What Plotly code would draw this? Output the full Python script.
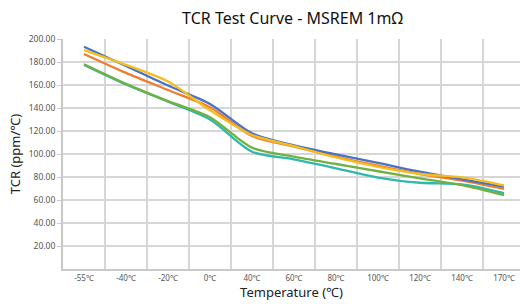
import plotly.graph_objects as go

categories = ["-55℃", "-40℃", "-20℃", "0℃", "40℃", "60℃", "80℃", "100℃", "120℃", "140℃", "170℃"]
blue = [193.3, 176.5, 159.5, 143.5, 118.0, 107.5, 99.7, 92.3, 84.6, 78.0, 71.6]
orange = [187.0, 170.5, 155.6, 140.6, 115.7, 106.4, 97.7, 89.8, 82.6, 76.8, 69.6]
yellow = [190.4, 177.5, 163.0, 138.0, 116.5, 106.8, 97.0, 88.8, 82.6, 79.7, 72.8]
green = [178.0, 161.0, 146.0, 132.0, 105.5, 97.7, 91.3, 85.0, 78.8, 73.0, 64.3]
teal = [177.5, 160.5, 145.5, 130.0, 102.0, 95.4, 87.6, 79.5, 75.0, 73.5, 66.0]
y_ticks = [20, 40, 60, 80, 100, 120, 140, 160, 180, 200]

series = [
    ("teal", teal, "#2fb8ab"),
    ("green", green, "#72b043"),
    ("orange", orange, "#ef7d30"),
    ("blue", blue, "#4a72c4"),
    ("yellow", yellow, "#f5bd1f"),
]

fig = go.Figure()
for name, vals, col in series:
    fig.add_trace(go.Scatter(
        x=categories, y=vals, mode="lines", name=name,
        line=dict(color=col, width=2.3, shape="spline", smoothing=0.8),
        showlegend=False, hoverinfo="skip",
    ))

fig.update_layout(
    width=520, height=304,
    margin=dict(l=63, r=0, t=39, b=35),
    paper_bgcolor="white", plot_bgcolor="white",
    font=dict(family="Noto Sans, Open Sans, sans-serif", color="#222"),
    title=dict(text="TCR Test Curve - MSREM 1mΩ", x=0.5625, xanchor="center",
               y=0.94, yanchor="middle", font=dict(size=16, color="#111")),
)
fig.update_xaxes(
    type="category", range=[-0.5, 10.38], automargin=False,
    tickson="boundaries", showgrid=True, gridcolor="#d6d6d6", gridwidth=1.5,
    showline=True, linecolor="#c8c8c8", linewidth=2,
    ticks="", tickfont=dict(size=8, color="#555"),
    title=dict(text="Temperature (℃)", font=dict(size=13, color="#222"), standoff=4),
)
fig.update_yaxes(
    range=[0, 200], tickvals=y_ticks, tickformat=".2f", automargin=False,
    showgrid=True, gridcolor="#d6d6d6", gridwidth=1.5,
    showline=True, linecolor="#c8c8c8", linewidth=2,
    ticks="outside", ticklen=4, tickcolor="#c8c8c8",
    tickfont=dict(size=8.5, color="#555"), zeroline=False,
    title=dict(text="TCR (ppm/℃)", font=dict(size=13, color="#222"), standoff=5),
)

fig.write_html("out.html", config={"displayModeBar": False},
               post_script="document.body.style.margin='0';document.body.style.overflow='hidden';")
